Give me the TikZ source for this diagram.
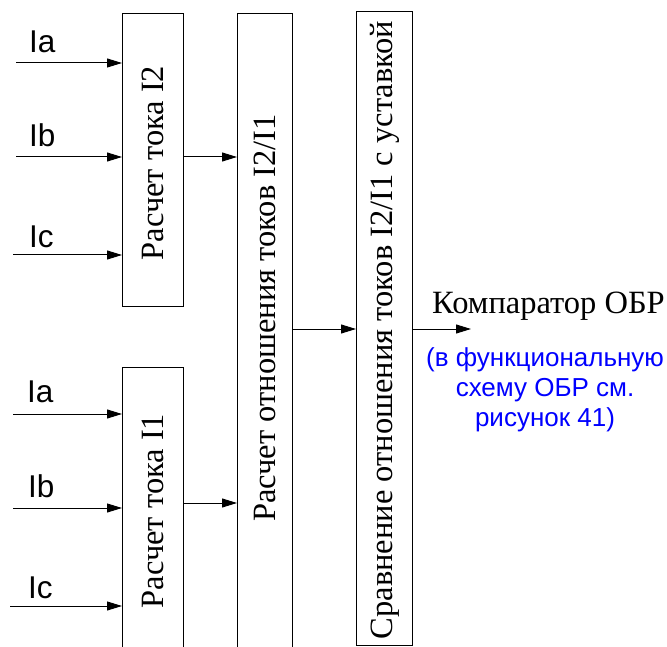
\documentclass[tikz,border=0pt]{standalone}
\usepackage{fontspec}
\setmainfont{Liberation Serif}
\newfontfamily\arialf{Liberation Sans}
\usetikzlibrary{arrows.meta}
\definecolor{refblue}{RGB}{0,0,255}
\begin{document}
\begin{tikzpicture}[x=1pt,y=-1pt,
  blk/.style={draw, line width=1pt, inner sep=0pt, anchor=north west},
  blktext/.style={rotate=90, inner sep=0pt, font=\fontsize{32.5}{36}\selectfont},
  arr/.style={line width=1pt, -{Triangle[length=15pt,width=9pt]}},
  inlbl/.style={anchor=base west, inner sep=0pt, font=\arialf\fontsize{31.5}{34}\selectfont}
]
\useasboundingbox (0,0) rectangle (667,647);
\clip (0,0) rectangle (667,647);
% boxes
\node[blk, minimum width=61pt, minimum height=293pt] (b1) at (122,13) {};
\node[blk, minimum width=61pt, minimum height=330pt] (b4) at (122,367) {};
\node[blk, minimum width=55pt, minimum height=680pt] (b2) at (237,13) {};
\node[blk, minimum width=56pt, minimum height=634pt] (b3) at (356,11) {};
% box texts
\node[blktext] (t1) at (153,163) {Расчет тока I2};
\node[blktext] (t4) at (153,511) {Расчет тока I1};
\node[blktext] (t2) at (265,318) {Расчет отношения токов I2/I1};
\node[blktext] (t3) at (385,330) {Сравнение отношения токов I2/I1 с уставкой};
% input coordinates
\coordinate (a1) at (16,63);
\coordinate (bb1) at (16,157);
\coordinate (c1) at (13,255);
\coordinate (a2) at (13,414);
\coordinate (bb2) at (13,508);
\coordinate (c2) at (10,606);
\draw[arr] (a1) -- (a1 -| b1.west);
\draw[arr] (bb1) -- (bb1 -| b1.west);
\draw[arr] (c1) -- (c1 -| b1.west);
\draw[arr] (a2) -- (a2 -| b4.west);
\draw[arr] (bb2) -- (bb2 -| b4.west);
\draw[arr] (c2) -- (c2 -| b4.west);
% input labels
\node[inlbl] (la1) at (29,53) {Ia};
\node[inlbl] (lb1) at (29,147) {Ib};
\node[inlbl] (lc1) at (29,248) {Ic};
\node[inlbl] (la2) at (27,402) {Ia};
\node[inlbl] (lb2) at (28,497) {Ib};
\node[inlbl] (lc2) at (28,598) {Ic};
% inter-box connectors
\coordinate (p12) at (0,157);
\coordinate (p42) at (0,503);
\coordinate (p23) at (0,329);
\draw[arr] (p12 -| b1.east) -- (p12 -| b2.west);
\draw[arr] (p42 -| b4.east) -- (p42 -| b2.west);
\draw[arr] (p23 -| b2.east) -- (p23 -| b3.west);
\coordinate (out) at (471,329);
\draw[arr] (out -| b3.east) -- (out);
% output labels
\node[anchor=base, inner sep=0pt, font=\fontsize{32.5}{36}\selectfont] (comp) at (548.5,313) {Компаратор ОБР};
\node[align=center, inner sep=0pt, text=refblue, font=\arialf\fontsize{26}{30}\selectfont] (note) at (545,390) {(в функциональную\\схему ОБР см.\\рисунок 41)};
\end{tikzpicture}
\end{document}
